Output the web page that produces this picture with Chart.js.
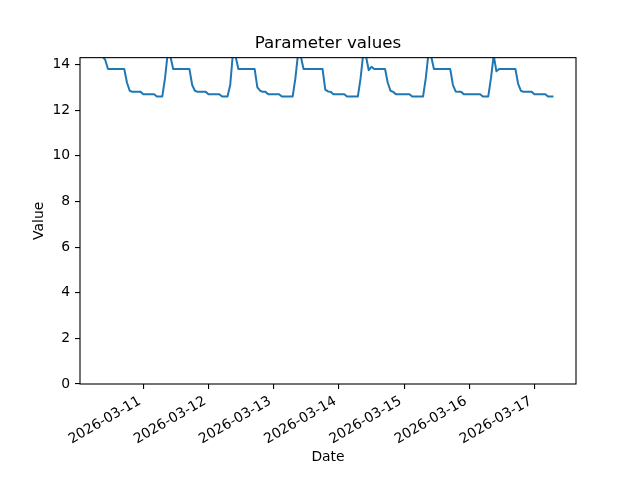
<!DOCTYPE html>
<html>
<head>
<meta charset="utf-8">
<title>Parameter values</title>
<script src="https://cdn.jsdelivr.net/npm/chart.js@4.4.1/dist/chart.umd.min.js"></script>
<style>
  html, body { margin: 0; padding: 0; background: #fff; }
  #chart { display: block; }
</style>
</head>
<body>
<canvas id="chart" width="640" height="480"></canvas>
<script>
// Hourly readings, one array per calendar day (first day starts at 09:00)
const startHour = 9;
const day0310 = [14.35, 14.2, 13.8, 13.8, 13.8, 13.8, 13.8, 13.8, 13.8, 13.2, 12.85, 12.8, 12.8, 12.8, 12.8];
const day0311 = [12.7, 12.7, 12.7, 12.7, 12.7, 12.6, 12.6, 12.6, 13.4, 14.5, 14.35, 13.8, 13.8, 13.8, 13.8, 13.8, 13.8, 13.8, 13.1, 12.85, 12.8, 12.8, 12.8, 12.8];
const day0312 = [12.7, 12.7, 12.7, 12.7, 12.7, 12.6, 12.6, 12.6, 13.1, 14.5, 14.35, 13.8, 13.8, 13.8, 13.8, 13.8, 13.8, 13.8, 13.0, 12.85, 12.8, 12.8, 12.7, 12.7];
const day0313 = [12.7, 12.7, 12.7, 12.6, 12.6, 12.6, 12.6, 12.6, 13.4, 14.5, 14.35, 13.8, 13.8, 13.8, 13.8, 13.8, 13.8, 13.8, 13.8, 12.9, 12.82, 12.8, 12.7, 12.7];
const day0314 = [12.7, 12.7, 12.7, 12.6, 12.6, 12.6, 12.6, 12.6, 13.4, 14.5, 14.35, 13.75, 13.9, 13.8, 13.8, 13.8, 13.8, 13.8, 13.2, 12.85, 12.8, 12.7, 12.7, 12.7];
const day0315 = [12.7, 12.7, 12.7, 12.6, 12.6, 12.6, 12.6, 12.6, 13.4, 14.5, 14.35, 13.8, 13.8, 13.8, 13.8, 13.8, 13.8, 13.8, 13.1, 12.82, 12.8, 12.8, 12.7, 12.7];
const day0316 = [12.7, 12.7, 12.7, 12.7, 12.7, 12.6, 12.6, 12.6, 13.4, 14.4, 13.7, 13.8, 13.8, 13.8, 13.8, 13.8, 13.8, 13.8, 13.15, 12.85, 12.8, 12.8, 12.8, 12.8];
const day0317 = [12.7, 12.7, 12.7, 12.7, 12.7, 12.6, 12.6, 12.6];

// x axis is measured in days since 2026-03-10 00:00
const tickDays = [1, 2, 3, 4, 5, 6, 7];
const tickLabels = ['2026-03-11', '2026-03-12', '2026-03-13', '2026-03-14', '2026-03-15', '2026-03-16', '2026-03-17'];
const yMin = 0;
const yMax = 14.3;

const FONT = 'DejaVu Sans';
Chart.defaults.font.family = FONT;
Chart.defaults.color = '#000';

const points = [];
let hour = startHour;
[day0310, day0311, day0312, day0313, day0314, day0315, day0316, day0317].forEach(vals => {
    vals.forEach(v => {
        points.push({ x: hour / 24, y: v });
        hour++;
    });
});

// matplotlib style 5% margins on x
const xFirst = points[0].x;
const xLast = points[points.length - 1].x;
const xPad = (xLast - xFirst) * 0.05;

// full box around the plot area
const frame = {
    id: 'frame',
    afterDatasetsDraw(chart) {
        const { ctx, chartArea: a } = chart;
        ctx.save();
        ctx.strokeStyle = '#000';
        ctx.lineWidth = 1.1;
        ctx.strokeRect(a.left, a.top, a.right - a.left, a.bottom - a.top);
        ctx.restore();
    }
};

new Chart(document.getElementById('chart'), {
    type: 'line',
    data: {
        datasets: [{
            label: 'Value',
            data: points,
            borderColor: '#1f77b4',
            borderWidth: 2,
            pointRadius: 0,
            tension: 0,
            fill: false,
            borderJoinStyle: 'round'
        }]
    },
    options: {
        responsive: false,
        animation: false,
        events: [],
        layout: { padding: { left: 0, right: 64, top: 0, bottom: 0 } },
        plugins: {
            legend: { display: false },
            tooltip: { enabled: false },
            title: {
                display: true,
                text: 'Parameter values',
                fullSize: false,
                color: '#000',
                font: { size: 16.7, weight: 'normal', family: FONT },
                padding: { top: 33.3, bottom: 4.3 }
            }
        },
        scales: {
            x: {
                type: 'linear',
                min: xFirst - xPad,
                max: xLast + xPad,
                afterBuildTicks: scale => {
                    scale.ticks = tickDays.map(v => ({ value: v }));
                },
                afterFit: scale => { scale.height = 96; },
                border: { display: false },
                grid: { drawOnChartArea: false, drawTicks: true, tickLength: 5, color: '#000', lineWidth: 1.1 },
                ticks: {
                    autoSkip: false,
                    minRotation: 30,
                    maxRotation: 30,
                    padding: 4,
                    labelOffset: -3.5,
                    font: { size: 13.9 },
                    callback: value => tickLabels[tickDays.indexOf(value)]
                },
                title: {
                    display: true,
                    text: 'Date',
                    font: { size: 13.9 },
                    padding: { top: 0, bottom: 14.1 }
                }
            },
            y: {
                min: yMin,
                max: yMax,
                afterFit: scale => { scale.width = 80; },
                border: { display: false },
                grid: { drawOnChartArea: false, drawTicks: true, tickLength: 5, color: '#000', lineWidth: 1.1 },
                ticks: {
                    stepSize: 2,
                    includeBounds: false,
                    padding: 4.8,
                    font: { size: 13.9 }
                },
                title: {
                    display: true,
                    text: 'Value',
                    font: { size: 13.9 },
                    padding: { top: 30.7, bottom: 0 }
                }
            }
        }
    },
    plugins: [frame]
});
</script>
</body>
</html>
